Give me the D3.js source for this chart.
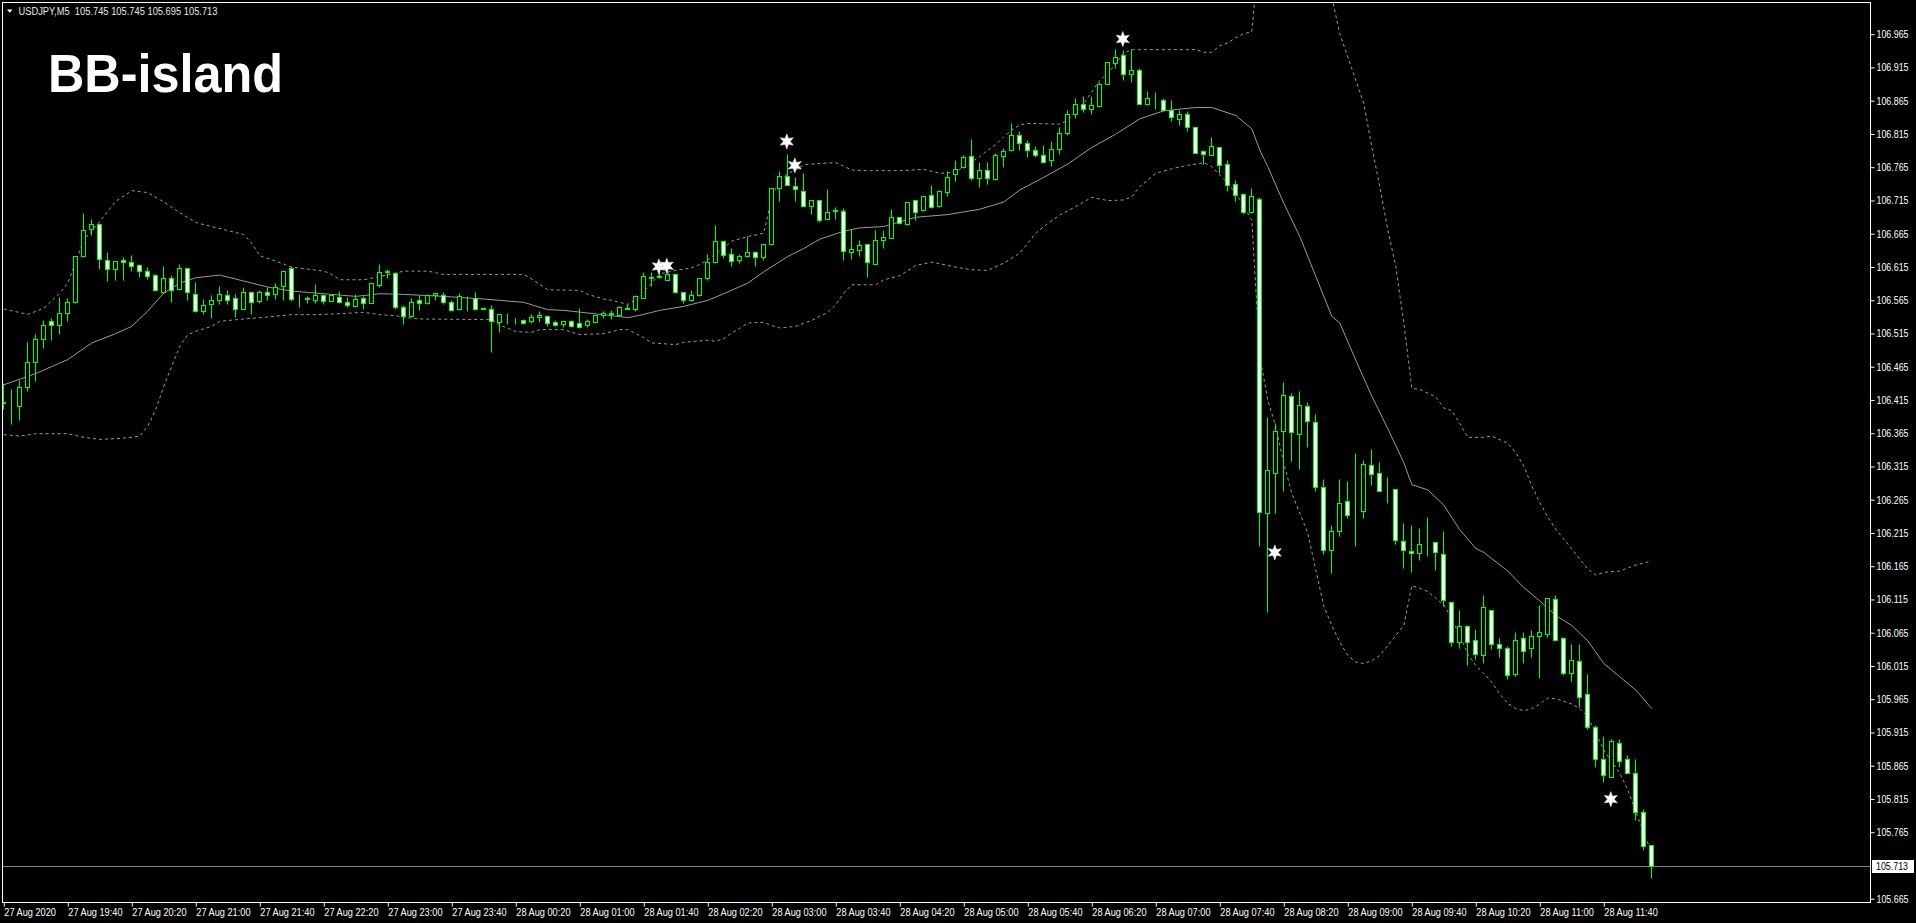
<!DOCTYPE html>
<html><head><meta charset="utf-8">
<script src="https://cdn.jsdelivr.net/npm/d3@7"></script>
<style>html,body{margin:0;padding:0;background:#000;overflow:hidden}</style>
</head><body>
<svg id="c" width="1916" height="923"></svg>
<script>
// ---- DATA ----
const symbolInfo = "USDJPY,M5  105.745 105.745 105.695 105.713";
const chartTitle = "BB-island";
const lastPrice = 105.713;
// candles: [open, high, low, close], one per 5-minute bar, from 27 Aug 19:00
const candles = [
[106.410,106.439,106.401,106.411],[106.409,106.431,106.378,106.410],[106.405,106.445,106.384,106.434],[106.434,106.501,106.428,106.471],
[106.471,106.513,106.443,106.506],[106.506,106.534,106.492,106.527],[106.533,106.538,106.504,106.527],[106.527,106.569,106.513,106.545],
[106.545,106.568,106.533,106.562],[106.561,106.631,106.560,106.631],[106.631,106.696,106.629,106.670],[106.671,106.686,106.662,106.679],
[106.679,106.681,106.611,106.626],[106.624,106.636,106.593,106.611],[106.611,106.623,106.595,106.623],[106.625,106.629,106.595,106.622],
[106.622,106.632,106.608,106.616],[106.617,106.619,106.599,106.608],[106.608,106.614,106.596,106.601],[106.602,106.603,106.578,106.580],
[106.577,106.616,106.575,106.598],[106.598,106.602,106.561,106.580],[106.581,106.619,106.580,106.613],[106.613,106.613,106.565,106.577],
[106.574,106.592,106.547,106.548],[106.548,106.566,106.544,106.557],[106.559,106.572,106.538,106.565],[106.565,106.586,106.559,106.574],
[106.572,106.580,106.559,106.565],[106.568,106.574,106.539,106.551],[106.551,106.584,106.551,106.577],[106.577,106.577,106.544,106.562],
[106.563,106.580,106.560,106.577],[106.577,106.584,106.565,106.572],[106.574,106.590,106.566,106.584],[106.586,106.610,106.565,106.608],
[106.613,106.616,106.563,106.566],[106.567,106.574,106.554,106.568],[106.566,106.571,106.560,106.567],[106.565,106.589,106.560,106.572],
[106.572,106.574,106.559,106.563],[106.563,106.572,106.563,106.572],[106.569,106.578,106.560,106.562],[106.562,106.569,106.554,106.557],
[106.556,106.574,106.554,106.566],[106.568,106.571,106.551,106.560],[106.560,106.590,106.560,106.590],[106.587,106.619,106.584,106.607],
[106.607,106.611,106.598,106.608],[106.605,106.607,106.551,106.554],[106.554,106.557,106.529,106.540],[106.540,106.567,106.539,106.562],
[106.564,106.572,106.549,106.560],[106.560,106.574,106.559,106.572],[106.572,106.575,106.565,106.575],[106.572,106.577,106.558,106.562],
[106.562,106.564,106.548,106.550],[106.551,106.575,106.550,106.571],[106.569,106.571,106.548,106.569],[106.568,106.577,106.550,106.551],
[106.551,106.552,106.549,106.552],[106.551,106.557,106.486,106.533],[106.531,106.544,106.516,106.544],[106.537,106.545,106.529,106.537],
[106.533,106.538,106.528,106.533],[106.535,106.536,106.529,106.530],[106.533,106.544,106.530,106.539],[106.539,106.548,106.532,106.542],
[106.541,106.542,106.525,106.530],[106.532,106.535,106.526,106.527],[106.528,106.533,106.524,106.533],[106.533,106.535,106.524,106.525],
[106.530,106.553,106.523,106.524],[106.527,106.536,106.524,106.533],[106.532,106.542,106.530,106.542],[106.542,106.548,106.537,106.545],
[106.543,106.549,106.536,106.545],[106.542,106.556,106.540,106.554],[106.551,106.559,106.551,106.553],[106.551,106.572,106.548,106.571],
[106.568,106.607,106.567,106.601],[106.598,106.607,106.585,106.599],[106.599,106.610,106.597,106.601],[106.595,106.608,106.594,106.604],
[106.604,106.605,106.575,106.576],[106.577,106.577,106.560,106.564],[106.564,106.580,106.563,106.572],[106.572,106.598,106.570,106.598],
[106.598,106.634,106.595,106.622],[106.622,106.677,106.620,106.654],[106.654,106.655,106.628,106.632],[106.634,106.643,106.615,106.623],
[106.625,106.634,106.620,106.631],[106.630,106.661,106.629,106.637],[106.637,106.638,106.615,106.629],[106.629,106.649,106.625,106.649],
[106.649,106.733,106.647,106.733],[106.733,106.759,106.713,106.751],[106.751,106.784,106.737,106.737],[106.736,106.750,106.713,106.731],
[106.728,106.755,106.704,106.706],[106.706,106.715,106.694,106.715],[106.715,106.715,106.682,106.685],[106.686,106.732,106.686,106.697],
[106.699,106.705,106.687,106.700],[106.699,106.703,106.624,106.638],[106.637,106.671,106.626,106.641],[106.640,106.655,106.631,106.647],
[106.649,106.649,106.599,106.622],[106.618,106.670,106.618,106.655],[106.655,106.670,106.643,106.659],[106.658,106.701,106.658,106.689],
[106.689,106.689,106.679,106.680],[106.679,106.712,106.677,106.712],[106.715,106.715,106.685,106.697],[106.700,106.721,106.698,106.721],
[106.722,106.737,106.703,106.704],[106.706,106.730,106.704,106.728],[106.727,106.758,106.721,106.749],[106.754,106.775,106.744,106.761],
[106.764,106.782,106.763,106.779],[106.781,106.807,106.745,106.748],[106.748,106.772,106.734,106.760],[106.760,106.772,106.739,106.748],
[106.746,106.785,106.745,106.782],[106.781,106.793,106.765,106.788],[106.790,106.831,106.789,106.812],[106.812,106.818,106.790,106.800],
[106.800,106.805,106.779,106.790],[106.790,106.796,106.779,106.782],[106.782,106.797,106.770,106.772],[106.775,106.803,106.766,106.791],
[106.791,106.825,106.784,106.815],[106.815,106.850,106.812,106.845],[106.845,106.868,106.838,106.860],[106.860,106.872,106.848,106.852],
[106.852,106.872,106.845,106.858],[106.857,106.893,106.855,106.890],[106.890,106.923,106.889,106.923],[106.921,106.942,106.914,106.930],
[106.933,106.941,106.895,106.904],[106.905,106.942,106.893,106.911],[106.910,106.914,106.860,106.860],[106.860,106.879,106.858,106.869],
[106.866,106.877,106.852,106.866],[106.866,106.869,106.849,106.851],[106.851,106.866,106.834,106.839],[106.837,106.851,106.827,106.845],
[106.844,106.849,106.818,106.824],[106.824,106.824,106.785,106.786],[106.788,106.790,106.769,106.784],[106.783,106.810,106.783,106.796],
[106.794,106.794,106.756,106.768],[106.769,106.775,106.729,106.737],[106.739,106.745,106.714,106.722],[106.724,106.726,106.694,106.697],
[106.697,106.733,106.696,106.721],[106.717,106.720,106.194,106.246],[106.245,106.389,106.096,106.309],[106.304,106.379,106.245,106.367],
[106.367,106.441,106.278,106.421],[106.420,106.424,106.323,106.366],[106.363,106.427,106.310,106.406],[106.405,106.411,106.344,106.382],
[106.381,106.393,106.278,106.283],[106.284,106.296,106.182,106.188],[106.188,106.226,106.154,106.217],[106.217,106.296,106.209,106.260],
[106.262,106.293,106.236,106.242],[106.248,106.334,106.195,106.248],[106.248,106.324,106.236,106.318],[106.316,106.340,106.287,106.303],
[106.304,106.321,106.278,106.278],[106.279,106.299,106.260,106.279],[106.280,106.281,106.197,106.203],[106.202,106.229,106.161,106.188],
[106.187,106.226,106.155,106.184],[106.184,106.221,106.173,106.197],[106.203,106.239,106.179,106.203],[106.200,106.200,106.158,106.185],
[106.182,106.217,106.104,106.113],[106.110,106.111,106.045,106.051],[106.051,106.098,106.042,106.074],[106.075,106.076,106.015,106.051],
[106.054,106.070,106.024,106.032],[106.030,106.121,106.018,106.103],[106.098,106.099,106.040,106.047],[106.047,106.057,106.027,106.042],
[106.041,106.045,105.994,106.000],[106.002,106.065,105.999,106.054],[106.057,106.066,106.018,106.036],[106.041,106.068,106.027,106.060],
[106.060,106.106,105.996,106.065],[106.063,106.117,106.058,106.116],[106.115,106.121,106.052,106.053],[106.056,106.058,106.000,106.003],
[106.003,106.048,105.991,106.023],[106.021,106.048,105.952,105.968],[105.972,106.002,105.919,105.922],[105.922,105.925,105.863,105.875],
[105.875,105.909,105.840,105.850],[105.848,105.904,105.848,105.901],[105.898,105.904,105.863,105.872],[105.874,105.881,105.854,105.854],
[105.854,105.874,105.782,105.794],[105.794,105.799,105.737,105.743],[105.745,105.745,105.695,105.713]
];
// Bollinger bands: [bar index, price]
const bbMid = [[0,106.437],[4,106.454],[8,106.475],[11,106.500],[14,106.514],[16,106.525],[18,106.548],[20,106.575],[22,106.590],[24,106.598],[27,106.602],[30,106.593],[33,106.584],[36,106.578],[40,106.574],[44,106.570],[47,106.574],[50,106.573],[55,106.570],[60,106.566],[65,106.561],[68,106.550],[70,106.549],[73,106.545],[76,106.541],[78,106.538],[80,106.543],[82,106.549],[85,106.555],[88,106.564],[90,106.574],[93,106.590],[95,106.607],[98,106.630],[100,106.642],[102,106.656],[105,106.668],[107,106.673],[110,106.675],[114,106.689],[118,106.693],[122,106.701],[125,106.712],[127,106.730],[130,106.749],[133,106.769],[136,106.794],[139,106.814],[142,106.837],[145,106.849],[149,106.854],[151,106.854],[154,106.842],[156,106.822],[157,106.790],[158,106.765],[160,106.710],[162,106.660],[164,106.600],[166,106.540],[167,106.530],[169,106.474],[171,106.420],[173,106.371],[175,106.320],[176,106.287],[178,106.279],[180,106.256],[182,106.219],[184,106.191],[185,106.185],[188,106.157],[190,106.132],[192,106.112],[194,106.090],[196,106.075],[198,106.052],[200,106.018],[202,105.998],[204,105.978],[206,105.950]];
const bbUpper = [[0,106.551],[3,106.543],[5,106.552],[7,106.575],[8,106.590],[10,106.655],[12,106.683],[14,106.713],[16,106.729],[18,106.726],[20,106.712],[22,106.696],[24,106.681],[26,106.675],[28,106.669],[30,106.663],[31,106.650],[32,106.631],[34,106.623],[36,106.614],[40,106.608],[41,106.603],[42,106.595],[45,106.595],[47,106.600],[49,106.605],[50,106.608],[53,106.608],[55,106.603],[65,106.603],[66,106.596],[67,106.588],[68,106.580],[72,106.579],[73,106.573],[75,106.566],[76,106.564],[78,106.558],[79,106.565],[80,106.578],[81,106.590],[82,106.604],[84,106.609],[86,106.613],[87,106.618],[88,106.625],[90,106.643],[91,106.653],[93,106.660],[95,106.665],[96,106.720],[97,106.745],[98,106.755],[99,106.760],[100,106.768],[102,106.770],[104,106.771],[106,106.760],[108,106.759],[112,106.759],[115,106.761],[117,106.755],[119,106.757],[120,106.765],[122,106.780],[123,106.790],[124,106.798],[125,106.810],[126,106.820],[127,106.828],[128,106.830],[132,106.829],[133,106.835],[135,106.860],[137,106.895],[138,106.905],[139,106.920],[140,106.936],[141,106.941],[149,106.941],[150,106.937],[151,106.937],[152,106.947],[153,106.951],[154,106.959],[155,106.965],[156,106.968],[157,107.100],[158,107.140],[160,107.160],[163,107.150],[165,107.080],[166,107.020],[167,106.965],[168,106.930],[169,106.895],[170,106.860],[171,106.795],[172,106.735],[173,106.670],[174,106.615],[175,106.530],[176,106.432],[177,106.430],[179,106.419],[180,106.402],[181,106.398],[182,106.379],[183,106.358],[185,106.358],[186,106.360],[188,106.349],[189,106.335],[190,106.315],[191,106.285],[192,106.260],[193,106.238],[194,106.220],[195,106.205],[196,106.190],[197,106.175],[198,106.160],[199,106.151],[200,106.155],[202,106.157],[204,106.166],[206,106.172]];
const bbLower = [[0,106.362],[2,106.360],[4,106.3635],[8,106.3635],[10,106.358],[12,106.355],[14,106.356],[16,106.358],[17,106.360],[18,106.375],[19,106.400],[20,106.435],[21,106.465],[22,106.495],[23,106.5125],[24,106.5175],[26,106.525],[27,106.5325],[30,106.536],[33,106.539],[36,106.5425],[39,106.5425],[42,106.544],[45,106.546],[47,106.5425],[49,106.541],[50,106.5385],[52,106.536],[61,106.535],[62,106.527],[64,106.517],[66,106.516],[67,106.520],[70,106.520],[71,106.516],[72,106.5125],[75,106.514],[77,106.520],[78,106.520],[80,106.508],[81,106.500],[84,106.4975],[85,106.501],[88,106.504],[89,106.5025],[90,106.5065],[91,106.515],[92,106.522],[93,106.530],[95,106.531],[96,106.526],[97,106.5225],[99,106.525],[101,106.534],[103,106.546],[104,106.5575],[105,106.575],[106,106.5875],[109,106.5875],[110,106.595],[112,106.601],[114,106.6165],[116,106.6215],[119,106.614],[121,106.610],[123,106.609],[125,106.620],[127,106.635],[129,106.665],[130,106.675],[132,106.6925],[134,106.705],[136,106.719],[138,106.714],[140,106.715],[141,106.720],[142,106.735],[144,106.755],[146,106.762],[148,106.767],[150,106.771],[151,106.765],[153,106.740],[154,106.725],[155,106.705],[156,106.685],[157,106.480],[158,106.414],[159,106.374],[160,106.319],[161,106.274],[162,106.244],[163,106.214],[164,106.159],[165,106.104],[166,106.075],[167,106.050],[168,106.030],[169,106.020],[170,106.018],[171,106.022],[172,106.030],[173,106.045],[174,106.060],[175,106.075],[176,106.135],[177,106.131],[178,106.126],[179,106.116],[180,106.106],[181,106.085],[182,106.060],[183,106.032],[184,106.015],[185,106.003],[186,105.990],[187,105.972],[188,105.958],[189,105.950],[190,105.947],[191,105.950],[192,105.957],[193,105.966],[194,105.965],[195,105.961],[196,105.957],[197,105.950],[198,105.938],[199,105.913],[200,105.888],[201,105.870],[202,105.853],[203,105.828],[204,105.795],[205,105.763],[206,105.733]];
// star markers: [bar index, price]
const stars = [[82,106.615],[83,106.616],[98,106.803],[99,106.767],[140,106.957],[159,106.185],[201,105.814]];
// axis ticks
const priceTicks = [105.665,105.765,105.815,105.865,105.915,105.965,106.015,106.065,106.115,106.165,106.215,106.265,106.315,106.365,106.415,106.465,106.515,106.565,106.615,106.665,106.715,106.765,106.815,106.865,106.915,106.965];
const timeLabels = ["27 Aug 2020","27 Aug 19:40","27 Aug 20:20","27 Aug 21:00","27 Aug 21:40","27 Aug 22:20","27 Aug 23:00","27 Aug 23:40","28 Aug 00:20","28 Aug 01:00","28 Aug 01:40","28 Aug 02:20","28 Aug 03:00","28 Aug 03:40","28 Aug 04:20","28 Aug 05:00","28 Aug 05:40","28 Aug 06:20","28 Aug 07:00","28 Aug 07:40","28 Aug 08:20","28 Aug 09:00","28 Aug 09:40","28 Aug 10:20","28 Aug 11:00","28 Aug 11:40"];
const timeTickIdx = [0,8,16,24,32,40,48,56,64,72,80,88,96,104,112,120,128,136,144,152,160,168,176,184,192,200];

// ---- CHART ----
const W = 1916, H = 923;
const L = 2, R = 1870, T = 2, B = 902;
const GREEN = "#00ff00";
const svg = d3.select("#c");
svg.append("rect").attr("width", W).attr("height", H).attr("fill", "#000");

const x = d3.scaleLinear().domain([0, 206]).range([3.3, 1651.3]);
const y = d3.scaleLinear().domain([105.713, 106.965]).range([866.3, 33.7]);

svg.append("defs").append("clipPath").attr("id", "plot")
  .append("rect").attr("x", L + 1).attr("y", T + 1).attr("width", R - L - 1).attr("height", B - T - 1);
const g = svg.append("g").attr("clip-path", "url(#plot)");

// current price line
g.append("line").attr("x1", L).attr("x2", R).attr("y1", Math.round(y(lastPrice)) + 0.5).attr("y2", Math.round(y(lastPrice)) + 0.5)
  .attr("stroke", "#778899").attr("stroke-width", 1);

// Bollinger bands
const line = d3.line().x(d => x(d[0]) + 0.5).y(d => y(d[1]));
g.append("path").attr("d", line(bbMid)).attr("fill", "none").attr("stroke", "#9a9a9a").attr("stroke-width", 1);
g.append("path").attr("d", line(bbUpper)).attr("fill", "none").attr("stroke", "#9a9a9a").attr("stroke-width", 1).attr("stroke-dasharray", "3,3");
g.append("path").attr("d", line(bbLower)).attr("fill", "none").attr("stroke", "#9a9a9a").attr("stroke-width", 1).attr("stroke-dasharray", "3,3");

// candles
const cg = g.append("g");
candles.forEach((d, i) => {
  const [o, h, l, c] = d;
  const cx = Math.round(x(i));
  cg.append("line").attr("x1", cx + 0.5).attr("x2", cx + 0.5)
    .attr("y1", Math.round(y(h)) + 0.5).attr("y2", Math.round(y(l)) + 0.5)
    .attr("stroke", GREEN).attr("stroke-width", 1);
  const top = Math.round(y(Math.max(o, c))), bot = Math.round(y(Math.min(o, c)));
  cg.append("rect").attr("x", cx - 1.5).attr("y", top + 0.5).attr("width", 4).attr("height", Math.max(0, bot - top))
    .attr("fill", c < o ? "#ffffff" : "#000000").attr("stroke", GREEN).attr("stroke-width", 1);
});

// stars
function starPath(ro, ri) {
  const pts = [];
  for (let k = 0; k < 12; k++) {
    const a = -Math.PI / 2 + k * Math.PI / 6;
    const r = k % 2 === 0 ? ro : ri;
    pts.push([r * Math.cos(a), r * Math.sin(a)]);
  }
  return "M" + pts.map(p => p[0].toFixed(2) + "," + p[1].toFixed(2)).join("L") + "Z";
}
g.selectAll(".star").data(stars).enter().append("path")
  .attr("d", starPath(7.5, 3.4))
  .attr("transform", d => `translate(${x(d[0]) - 0.5},${y(d[1])})`)
  .attr("fill", "#ffffff").attr("stroke", "#dfe8ff").attr("stroke-width", 0.6);

// border
svg.append("rect").attr("x", L + 0.5).attr("y", T + 0.5).attr("width", R - L).attr("height", B - T)
  .attr("fill", "none").attr("stroke", "#ffffff").attr("stroke-width", 1);

const FONT = "'Liberation Sans', Arial, sans-serif";
// price axis
const ya = d3.axisRight(y).tickValues(priceTicks).tickSize(4).tickFormat(d => d.toFixed(3));
const yg = svg.append("g").attr("transform", `translate(${R + 0.5},0.5)`).call(ya);
yg.select(".domain").remove();
yg.selectAll(".tick line").attr("stroke", "#fff");
yg.selectAll(".tick text").attr("fill", "#fff").attr("font-family", FONT).attr("font-size", 10).attr("x", 6).attr("dy", "0.35em");

// time axis
const xa = d3.axisBottom(x).tickValues(timeTickIdx).tickSize(4).tickFormat((d, k) => timeLabels[k]);
const xg = svg.append("g").attr("transform", `translate(0.5,${B + 0.5})`).call(xa);
xg.select(".domain").remove();
xg.selectAll(".tick line").attr("stroke", "#fff");
xg.selectAll(".tick text").attr("fill", "#fff").attr("font-family", FONT).attr("font-size", 10)
  .attr("text-anchor", "start").attr("x", 0).attr("y", 4).attr("dy", "0.9em");

// condense axis text to match narrow platform font
yg.selectAll(".tick text").each(function () { const l = this.getComputedTextLength(); d3.select(this).attr("textLength", l * 0.886).attr("lengthAdjust", "spacingAndGlyphs"); });
xg.selectAll(".tick text").each(function () { const l = this.getComputedTextLength(); d3.select(this).attr("textLength", l * 0.92).attr("lengthAdjust", "spacingAndGlyphs"); });

// last price tag
const ly = Math.round(y(lastPrice));
svg.append("rect").attr("x", R + 2).attr("y", ly - 6).attr("width", 42).attr("height", 13).attr("fill", "#ffffff");
svg.append("text").attr("x", R + 6).attr("y", ly).attr("dy", "0.35em").attr("fill", "#000").attr("font-family", FONT)
  .attr("font-size", 10).text(lastPrice.toFixed(3))
  .each(function () { const l = this.getComputedTextLength(); d3.select(this).attr("textLength", l * 0.886).attr("lengthAdjust", "spacingAndGlyphs"); });

// header
svg.append("path").attr("d", "M7,9.5L12.5,9.5L9.75,12.8Z").attr("fill", "#fff");
svg.append("text").attr("x", 18.5).attr("y", 14.5).attr("fill", "#e8e8e8").attr("font-family", FONT).attr("font-size", 10)
  .attr("textLength", 199).attr("lengthAdjust", "spacingAndGlyphs").attr("xml:space", "preserve").style("white-space", "pre").text(symbolInfo);

// title
svg.append("text").attr("x", 48).attr("y", 92).attr("fill", "#fff").attr("font-family", FONT).attr("font-weight", "bold")
  .attr("font-size", 54).attr("textLength", 235).attr("lengthAdjust", "spacingAndGlyphs").text(chartTitle);
</script>
</body></html>
